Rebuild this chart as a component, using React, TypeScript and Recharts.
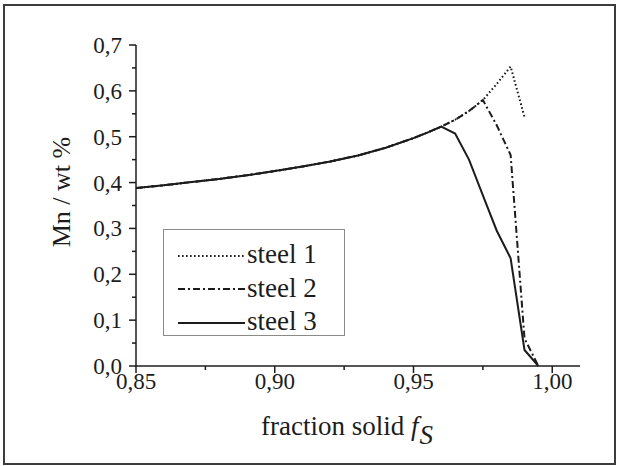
import { Legend, Line, LineChart, XAxis, YAxis } from 'recharts'

const fs = [0.85, 0.86, 0.87, 0.88, 0.89, 0.9, 0.91, 0.92, 0.93, 0.94, 0.95, 0.955, 0.96, 0.965, 0.97, 0.975, 0.98, 0.985, 0.99, 0.995]
const steel1 = [0.388, 0.394, 0.401, 0.408, 0.416, 0.425, 0.435, 0.446, 0.459, 0.476, 0.497, 0.509, 0.522, 0.537, 0.556, 0.58, 0.615, 0.653, 0.543, null]
const steel2 = [0.388, 0.394, 0.401, 0.408, 0.416, 0.425, 0.435, 0.446, 0.459, 0.476, 0.497, 0.509, 0.522, 0.537, 0.556, 0.58, 0.525, 0.46, 0.06, 0]
const steel3 = [0.388, 0.394, 0.401, 0.408, 0.416, 0.425, 0.435, 0.446, 0.459, 0.476, 0.497, 0.509, 0.522, 0.507, 0.45, 0.372, 0.295, 0.235, 0.035, 0]

const xTicks = [0.85, 0.875, 0.9, 0.925, 0.95, 0.975, 1.0]
const yTicks = [0, 0.05, 0.1, 0.15, 0.2, 0.25, 0.3, 0.35, 0.4, 0.45, 0.5, 0.55, 0.6, 0.65, 0.7]

const seriesNames = ['steel 1', 'steel 2', 'steel 3']

const data = fs.map((f, i) => ({ fs: f, s1: steel1[i], s2: steel2[i], s3: steel3[i] }))

const ink = '#1c1c1c'
const serif = { fontFamily: 'Liberation Serif, DejaVu Serif, serif' }
const dotted = '1.6 2.4'
const dashDot = '7 3 2 3'

function XTick(props: any) {
  const { x, y, payload } = props
  const v = payload.value
  const major = Math.abs(v * 20 - Math.round(v * 20)) < 1e-6
  return (
    <g>
      <line x1={x} x2={x} y1={y} y2={y + (major ? 7 : 4)} stroke={ink} strokeWidth={1.5} />
      {major && (
        <text x={x} y={y + 23} textAnchor="middle" fontSize={23} style={serif} fill={ink}>
          {v.toFixed(2).replace('.', ',')}
        </text>
      )}
    </g>
  )
}

function YTick(props: any) {
  const { x, y, payload } = props
  const v = payload.value
  const major = Math.abs(v * 10 - Math.round(v * 10)) < 1e-6
  return (
    <g>
      <line x1={x - (major ? 7 : 4)} x2={x} y1={y} y2={y} stroke={ink} strokeWidth={1.5} />
      {major && (
        <text x={x - 14} y={y + 8} textAnchor="end" fontSize={23} style={serif} fill={ink}>
          {v.toFixed(1).replace('.', ',')}
        </text>
      )}
    </g>
  )
}

const XTitle = () => (
  <text x={261} y={435} fontSize={27} style={serif} fill={ink}>
    fraction solid{' '}
    <tspan fontStyle="italic">f</tspan>
    <tspan fontStyle="italic" dy={9} dx={1}>S</tspan>
  </text>
)

const YTitle = () => (
  <text
    x={70}
    y={192}
    transform="rotate(-90 70 192)"
    textAnchor="middle"
    fontSize={26}
    style={serif}
    fill={ink}
  >
    Mn / wt %
  </text>
)

function LegendBox() {
  const dashes = [dotted, dashDot, undefined]
  const lineY = [26, 59, 93]
  const textY = [33, 67, 100]
  return (
    <div style={{ width: 182, height: 107, border: '1px solid #8a8a8a', background: '#fff', boxSizing: 'border-box' }}>
      <svg width={180} height={105} style={{ overflow: 'visible', display: 'block' }}>
        {seriesNames.map((name, i) => (
          <g key={name}>
            <line x1={14} x2={81} y1={lineY[i]} y2={lineY[i]} stroke={ink} strokeWidth={2} strokeDasharray={dashes[i]} />
            <text x={83} y={textY[i]} fontSize={27} style={serif} fill={ink}>
              {name}
            </text>
          </g>
        ))}
      </svg>
    </div>
  )
}

export default function App() {
  return (
    <div style={{ position: 'absolute', left: 0, top: 0, width: 619, height: 466, background: '#fff' }}>
      <div
        style={{
          position: 'absolute',
          left: 3,
          top: 4,
          width: 613,
          height: 461,
          border: '2px solid #3c3c3c',
          boxSizing: 'border-box',
        }}
      />
      <div style={{ position: 'absolute', left: 0, top: 0 }}>
        <LineChart width={619} height={466} data={data} margin={{ top: 45, right: 39, left: 56, bottom: 40 }}>
          <XAxis
            dataKey="fs"
            type="number"
            domain={[0.85, 1.01]}
            ticks={xTicks}
            allowDataOverflow
            interval={0}
            height={60}
            tickSize={0}
            tickMargin={0}
            tickLine={false}
            tick={<XTick />}
            axisLine={{ stroke: ink, strokeWidth: 1.5 }}
            label={<XTitle />}
          />
          <YAxis
            type="number"
            domain={[0, 0.7]}
            ticks={yTicks}
            interval={0}
            width={80}
            tickSize={0}
            tickMargin={0}
            tickLine={false}
            tick={<YTick />}
            axisLine={{ stroke: ink, strokeWidth: 1.5 }}
            label={<YTitle />}
          />
          <Legend
            layout="vertical"
            align="center"
            verticalAlign="middle"
            wrapperStyle={{ left: 163, top: 229, width: 182, height: 107 }}
            content={() => <LegendBox />}
          />
          <Line dataKey="s1" name={seriesNames[0]} stroke={ink} strokeWidth={2} strokeDasharray={dotted} dot={false} isAnimationActive={false} />
          <Line dataKey="s2" name={seriesNames[1]} stroke={ink} strokeWidth={2} strokeDasharray={dashDot} dot={false} isAnimationActive={false} />
          <Line dataKey="s3" name={seriesNames[2]} stroke={ink} strokeWidth={2} dot={false} isAnimationActive={false} />
        </LineChart>
      </div>
    </div>
  )
}
